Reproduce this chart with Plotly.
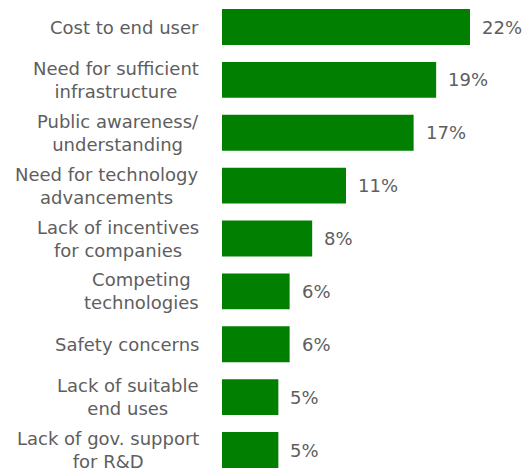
import plotly.graph_objects as go

# Barriers to adoption, share of respondents (%)
categories = [
    "Cost to end user",
    "Need for sufficient<br>infrastructure",
    "Public awareness/<br>understanding",
    "Need for technology<br>advancements",
    "Lack of incentives<br>for companies",
    "Competing<br>technologies",
    "Safety concerns",
    "Lack of suitable<br>end uses",
    "Lack of gov. support<br>for R&D",
]
values = [22, 19, 17, 11, 8, 6, 6, 5, 5]

text_color = "#5e5e5e"
font_family = "DejaVu Sans, Verdana, sans-serif"
font_size = 18

fig = go.Figure(
    go.Bar(
        x=values,
        y=categories,
        orientation="h",
        marker=dict(color="#007f00", line=dict(width=0)),
        hoverinfo="skip",
    )
)

for cat, v in zip(categories, values):
    # category label, lines centred, block right-aligned against the axis
    fig.add_annotation(
        x=0, y=cat, text=cat, showarrow=False,
        xanchor="right", yanchor="middle", align="center", xshift=-21,
        font=dict(size=font_size, color=text_color, family=font_family),
    )
    # value label to the right of each bar
    fig.add_annotation(
        x=v, y=cat, text=f"{v}%", showarrow=False,
        xanchor="left", yanchor="middle", xshift=10,
        font=dict(size=font_size, color=text_color, family=font_family),
    )

fig.update_layout(
    width=526, height=471,
    margin=dict(l=222, r=0, t=0, b=0),
    paper_bgcolor="white", plot_bgcolor="white",
    bargap=0.32,
    showlegend=False,
    font=dict(family=font_family, size=font_size, color=text_color),
)
fig.update_xaxes(
    range=[0, 26.97], visible=False, fixedrange=True,
)
fig.update_yaxes(
    type="category",
    range=[8.397, -0.511],
    showgrid=False, zeroline=False,
    showline=False, ticks="", showticklabels=False,
    automargin=False,
)
# faint axis line at the bar baseline
fig.add_shape(
    type="line", xref="x", yref="paper",
    xsizemode="pixel", xanchor=0, x0=-2, x1=-2, y0=0, y1=1,
    line=dict(color="#ececec", width=1),
)

fig.write_html("out.html")
